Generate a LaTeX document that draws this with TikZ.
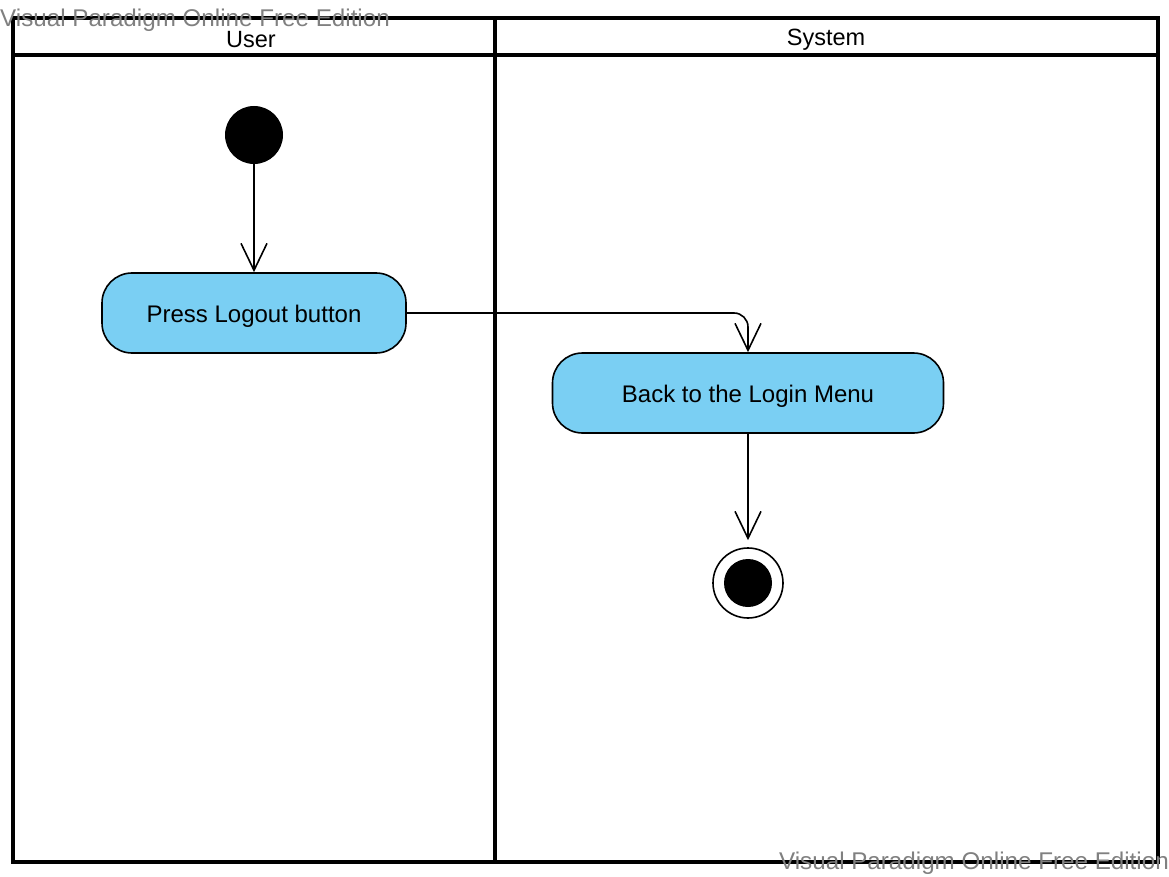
\documentclass[tikz,border=0pt]{standalone}
\usepackage{fontspec}
\setmainfont{Liberation Sans}
\usetikzlibrary{arrows.meta}
\definecolor{actfill}{RGB}{122,207,243}
\definecolor{wmgray}{RGB}{128,128,128}
\tikzset{
  lane/.style={line width=3.2pt, draw=black},
  action/.style={draw=black, line width=1.6pt, fill=actfill, rounded corners=30pt,
    minimum height=80pt, inner sep=0pt, text height=17pt, text depth=2pt,
    font=\fontsize{24}{28}\selectfont},
  flow/.style={line width=1.6pt, -{Straight Barb[length=27pt,width=26pt,line width=1.6pt]}},
  lanetitle/.style={font=\fontsize{23.5}{28}\selectfont, inner sep=0pt},
  watermark/.style={font=\fontsize{24.2}{28}\selectfont, text=wmgray, inner sep=0pt}
}
\begin{document}
\begin{tikzpicture}[x=1pt, y=-1pt]
  \useasboundingbox (0,0) rectangle (1169,877);
  % swimlanes
  \draw[lane] (13,18) rectangle (1158,862);
  \draw[lane] (13,55) -- (1158,55);
  \draw[lane] (495,18) -- (495,862);
  \node[lanetitle] (user) at (251,40) {User};
  \node[lanetitle] (system) at (826,40) {System};
  % activity nodes
  \node[circle, fill=black, minimum size=58pt, inner sep=0pt] (start) at (254,135) {};
  \node[action, minimum width=304pt] (logout) at (254,313) {\raisebox{-2pt}{Press Logout button}};
  \node[action, minimum width=391pt] (back) at (748,393) {\raisebox{-2pt}{Back to the Login Menu}};
  \node[circle, draw=black, line width=1.6pt, fill=white, minimum size=70pt, inner sep=0pt] (final) at (748,583) {};
  \node[circle, fill=black, minimum size=48pt, inner sep=0pt] (finaldot) at (final.center) {};
  % control flows
  \draw[flow] (start) -- (logout);
  \draw[flow, rounded corners=14pt] (logout.east) -| (back.north);
  \draw[flow, shorten >=7pt] (back) -- (final);
  % edition marks
  \node[watermark, anchor=west] (wm1) at (0,20.5) {Visual Paradigm Online Free Edition};
  \node[watermark, anchor=east] (wm2) at (1169,863.5) {Visual Paradigm Online Free Edition};
\end{tikzpicture}
\end{document}
